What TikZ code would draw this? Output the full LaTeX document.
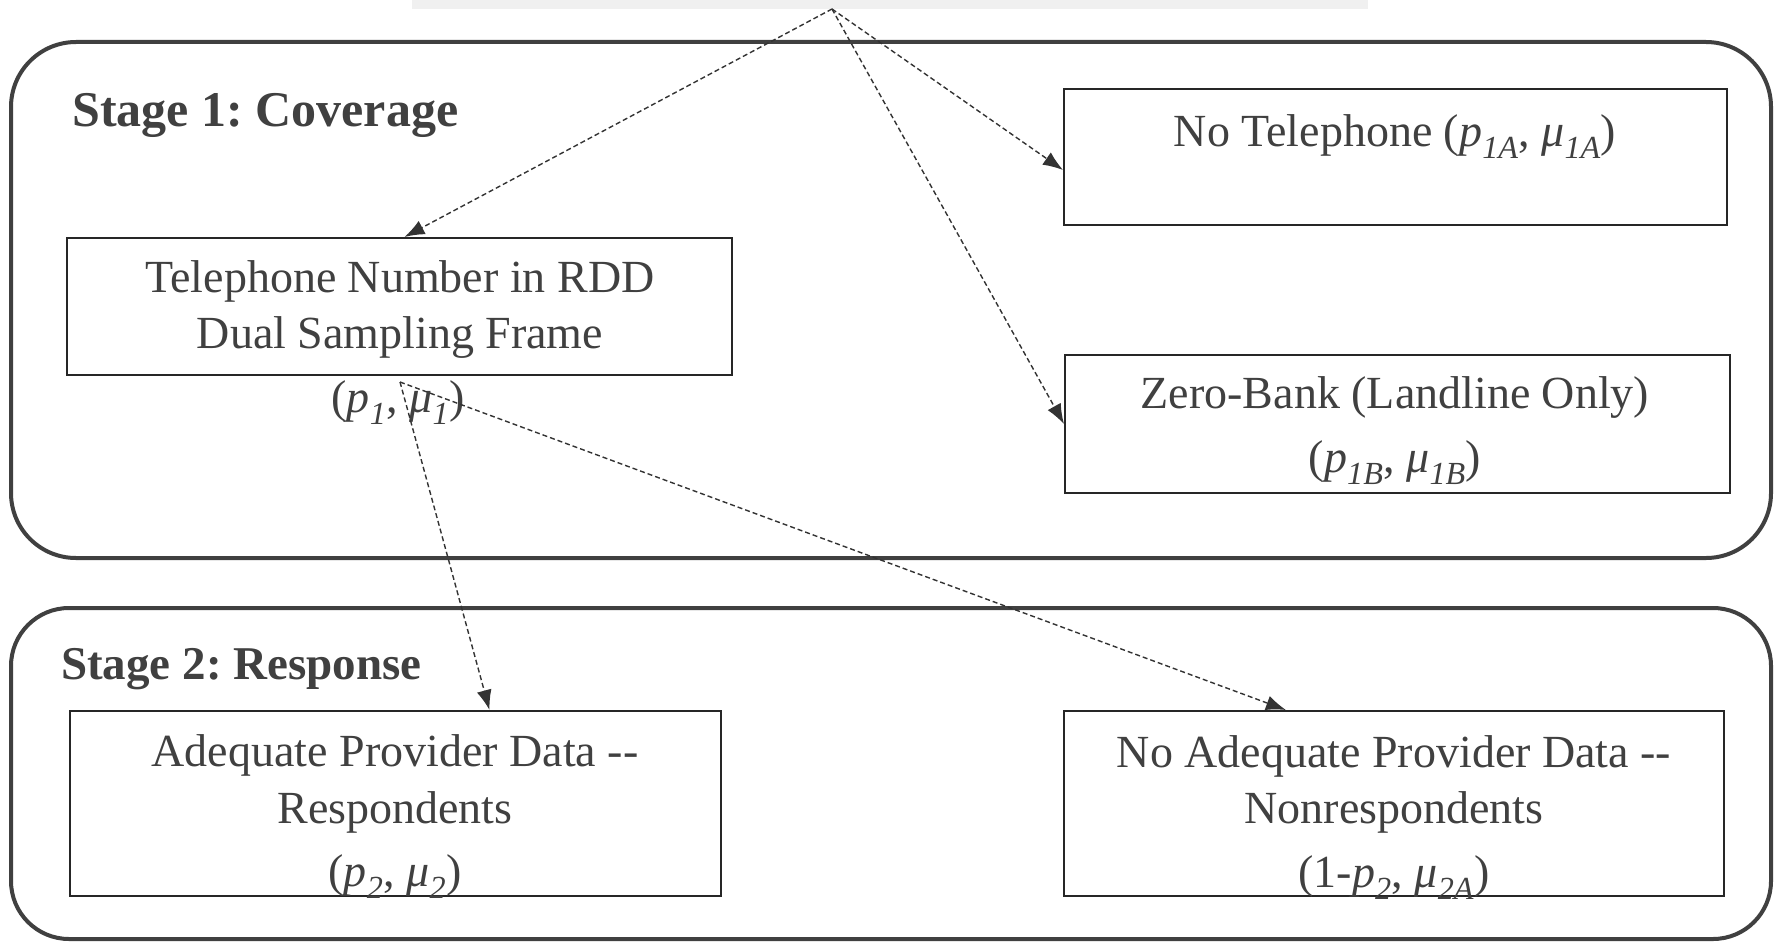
\documentclass[tikz,border=0pt]{standalone}
\usepackage{fontspec}
\setmainfont{Liberation Serif}
\usetikzlibrary{arrows.meta}
\definecolor{txt}{HTML}{404040}
\definecolor{frm}{HTML}{404040}
\definecolor{barfill}{HTML}{F0F0F0}
\newcommand{\mysub}[1]{\textsubscript{\itshape #1}}
\frenchspacing
\begin{document}
\begin{tikzpicture}[x=1pt,y=-1pt,
  frame/.style={draw=frm, line width=4pt, rounded corners=65pt, inner sep=0pt},
  box/.style={draw=black!85, line width=2pt, inner sep=0pt},
  lbl/.style={text=txt, inner sep=0pt, anchor=base, font=\fontsize{46}{55}\selectfont},
  stagelbl/.style={text=txt, inner sep=0pt, anchor=base west},
  flow/.style={draw=black!80, line width=1.4pt, dash pattern=on 5pt off 3pt, -{Latex[length=20pt,width=15pt]}}
]
\useasboundingbox (0,0) rectangle (1777,942);
% top (cut-off) node
\node[fill=barfill, draw=none, inner sep=0pt, minimum width=956pt, minimum height=9pt] (top) at (890,4.5) {};
% stage frames
\node[frame, minimum width=1760pt, minimum height=516pt] (s1) at (891,300) {};
\node[frame, minimum width=1760pt, minimum height=331pt, rounded corners=58pt] (s2) at (891,773.5) {};
\node[stagelbl, font=\bfseries\fontsize{50}{60}\selectfont] (s1lbl) at (72,126) {Stage 1: Coverage};
\node[stagelbl, font=\bfseries\fontsize{47}{56}\selectfont] (s2lbl) at (61,679) {Stage 2: Response};
% boxes
\node[box, minimum width=665pt, minimum height=137pt] (tel) at (399.5,306.5) {};
\node[box, minimum width=663pt, minimum height=136pt] (notel) at (1395.5,157) {};
\node[box, minimum width=665pt, minimum height=138pt] (zb) at (1397.5,424) {};
\node[box, minimum width=651pt, minimum height=185pt] (adq) at (395.5,803.5) {};
\node[box, minimum width=660pt, minimum height=185pt] (nadq) at (1394,803.5) {};
% texts
\node[lbl] (tel1) at (400,292) {Telephone Number in RDD};
\node[lbl] (tel2) at (400,348) {Dual Sampling Frame};
\node[lbl] (telp) at (398,412) {(\textit{p}\mysub{1}, \textit{μ}\mysub{1})};
\node[lbl] (notel1) at (1395,146) {No Telephone (\textit{p}\mysub{1A}, \textit{μ}\mysub{1A})};
\node[lbl] (zb1) at (1395,408) {Zero-Bank (Landline Only)};
\node[lbl] (zb2) at (1395,472) {(\textit{p}\mysub{1B}, \textit{μ}\mysub{1B})};
\node[lbl] (adq1) at (395,766) {Adequate Provider Data -{}-};
\node[lbl] (adq2) at (395,823) {Respondents};
\node[lbl] (adq3) at (395,886) {(\textit{p}\mysub{2}, \textit{μ}\mysub{2})};
\node[lbl] (nadq1) at (1394,767) {No Adequate Provider Data -{}-};
\node[lbl] (nadq2) at (1394,823) {Nonrespondents};
\node[lbl] (nadq3) at (1394,887) {(1-\textit{p}\mysub{2}, \textit{μ}\mysub{2A})};
% connectors
\coordinate (apex) at (832,9);
\coordinate (split) at (400,382);
\draw[flow] (apex) -- ([xshift=5pt]tel.north);
\draw[flow] (apex) -- ([yshift=-13pt]notel.west);
\draw[flow] (apex) -- (zb.west);
\draw[flow] (split) -- ([xshift=94pt]adq.north);
\draw[flow] (split) -- ([xshift=-108pt]nadq.north);
\end{tikzpicture}
\end{document}
